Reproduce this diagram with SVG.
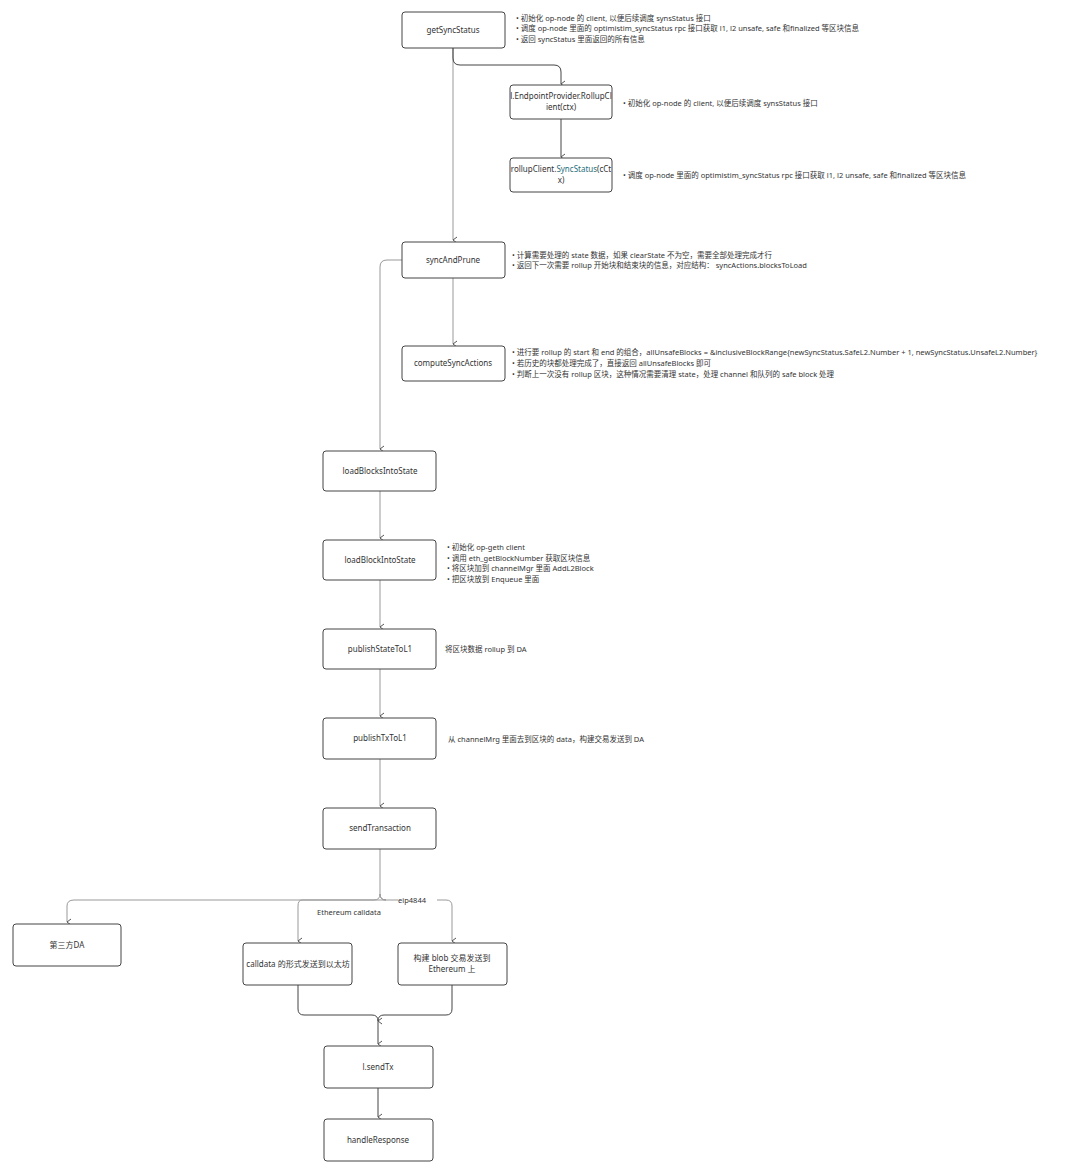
<svg xmlns="http://www.w3.org/2000/svg" width="1080" height="1175" viewBox="0 0 1080 1175">
<defs>
<marker id="ah" markerWidth="8" markerHeight="8" refX="4" refY="6" orient="auto-start-reverse" markerUnits="userSpaceOnUse" viewBox="0 0 8 8"><path d="M1,2 L4,6 L7,2" fill="none" stroke="#555" stroke-width="1"/></marker>
<style>
.n rect{fill:#fff;stroke:#444;stroke-width:1}
.n text{font-family:"Noto Sans","Noto Sans CJK SC",sans-serif;font-size:8px;fill:#333;text-anchor:middle}
.d{font-family:"Noto Sans","Noto Sans CJK SC",sans-serif;font-size:7.5px;fill:#333}
.c path{fill:none;stroke:#999;stroke-width:1;marker-end:url(#ah)}
.c path.k{stroke:#444}
.lbl{font-family:"Noto Sans",sans-serif;font-size:7.5px;fill:#333}
</style>
</defs>
<rect width="1080" height="1175" fill="#fff"/>
<g class="c">
<path d="M453,48 V240"/>
<path class="k" d="M453,48 V58 Q453,65 460,65 H554 Q561,65 561,72 V84"/>
<path class="k" d="M561,119 V157"/>
<path d="M453,278 V344"/>
<path d="M402,260 H387 Q380,260 380,267 V449"/>
<path d="M380,491 V538"/>
<path d="M380,580 V627"/>
<path d="M380,669 V716"/>
<path d="M380,759 V806"/>
<path d="M380,849 V894 Q380,900 374,900 H74 Q67,900 67,906 V922"/>
<path d="M380,894 Q380,900 386,900 H302 Q298,900 298,906 V941"/>
<path d="M380,894 Q380,900 386,900 H398 M437,900 H446 Q452,900 452,906 V941"/>
<path class="k" d="M298,985 V1009 Q298,1015 304,1015 H372 Q378,1015 378,1021 V1044"/>
<path class="k" d="M452,985 V1009 Q452,1015 446,1015 H384 Q378,1015 378,1021"/>
<path class="k" d="M378,1088 V1117"/>
<text class="lbl" x="412" y="903" text-anchor="middle">eip4844</text>
<text class="lbl" x="349" y="915" text-anchor="middle">Ethereum calldata</text>
</g>
<g id="getSyncStatus" class="n"><rect x="402" y="12" width="103" height="36" rx="3"/><text x="453" y="33">getSyncStatus</text></g>
<g id="rollupClient" class="n"><rect x="510" y="85" width="102" height="34" rx="3"/><text x="561" y="99">l.EndpointProvider.RollupCl</text><text x="561" y="110">ient(ctx)</text></g>
<g id="syncStatusCall" class="n"><rect x="510" y="158" width="102" height="34" rx="3"/><text x="561" y="172">rollupClient.<tspan fill="#2a6f7a">SyncStatus</tspan>(cCt</text><text x="561" y="183">x)</text></g>
<g id="syncAndPrune" class="n"><rect x="402" y="242" width="103" height="36" rx="3"/><text x="453" y="263">syncAndPrune</text></g>
<g id="computeSyncActions" class="n"><rect x="402" y="346" width="103" height="35" rx="3"/><text x="453" y="366">computeSyncActions</text></g>
<g id="loadBlocksIntoState" class="n"><rect x="323" y="451" width="113" height="40" rx="3"/><text x="380" y="474">loadBlocksIntoState</text></g>
<g id="loadBlockIntoState" class="n"><rect x="323" y="540" width="113" height="40" rx="3"/><text x="380" y="563">loadBlockIntoState</text></g>
<g id="publishStateToL1" class="n"><rect x="323" y="629" width="113" height="40" rx="3"/><text x="380" y="652">publishStateToL1</text></g>
<g id="publishTxToL1" class="n"><rect x="323" y="718" width="113" height="41" rx="3"/><text x="380" y="741">publishTxToL1</text></g>
<g id="sendTransaction" class="n"><rect x="323" y="808" width="113" height="41" rx="3"/><text x="380" y="831">sendTransaction</text></g>
<g id="thirdDA" class="n"><rect x="13" y="924" width="108" height="42" rx="3"/><text x="67" y="948">第三方DA</text></g>
<g id="calldata" class="n"><rect x="243" y="943" width="109" height="42" rx="3"/><text x="298" y="967">calldata 的形式发送到以太坊</text></g>
<g id="blob" class="n"><rect x="398" y="943" width="109" height="42" rx="3"/><text x="452" y="961">构建 blob 交易发送到</text><text x="452" y="972">Ethereum 上</text></g>
<g id="sendTx" class="n"><rect x="324" y="1046" width="109" height="42" rx="3"/><text x="378" y="1070">l.sendTx</text></g>
<g id="handleResponse" class="n"><rect x="324" y="1119" width="109" height="42" rx="3"/><text x="378" y="1143">handleResponse</text></g>
<g id="notes">
<text class="d" x="516" y="21">•  初始化 op-node 的 client, 以便后续调度 synsStatus 接口</text>
<text class="d" x="516" y="31">•  调度 op-node 里面的 optimistim_syncStatus rpc 接口获取 l1, l2 unsafe, safe 和finalized 等区块信息</text>
<text class="d" x="516" y="42">•  返回 syncStatus 里面返回的所有信息</text>
<text class="d" x="623" y="106">•  初始化 op-node 的 client, 以便后续调度 synsStatus 接口</text>
<text class="d" x="623" y="178">•  调度 op-node 里面的 optimistim_syncStatus rpc 接口获取 l1, l2 unsafe, safe 和finalized 等区块信息</text>
<text class="d" x="512" y="258">•  计算需要处理的 state 数据，如果 clearState 不为空，需要全部处理完成才行</text>
<text class="d" x="512" y="268">•  返回下一次需要 rollup 开始块和结束块的信息，对应结构： syncActions.blocksToLoad</text>
<text class="d" x="512" y="355">•  进行要 rollup 的 start 和 end 的组合，allUnsafeBlocks = &amp;inclusiveBlockRange{newSyncStatus.SafeL2.Number + 1, newSyncStatus.UnsafeL2.Number}</text>
<text class="d" x="512" y="366">•  若历史的块都处理完成了，直接返回  allUnsafeBlocks 即可</text>
<text class="d" x="512" y="377">•  判断上一次没有 rollup 区块，这种情况需要清理 state，处理 channel 和队列的 safe block 处理</text>
<text class="d" x="447" y="550">•  初始化 op-geth client</text>
<text class="d" x="447" y="561">•  调用 eth_getBlockNumber 获取区块信息</text>
<text class="d" x="447" y="571">•  将区块加到 channelMgr 里面 AddL2Block</text>
<text class="d" x="447" y="582">•  把区块放到 Enqueue 里面</text>
<text class="d" x="445" y="652">将区块数据 rollup 到 DA</text>
<text class="d" x="448" y="742">从 channelMrg 里面去到区块的 data，构建交易发送到 DA</text>
</g>
</svg>
